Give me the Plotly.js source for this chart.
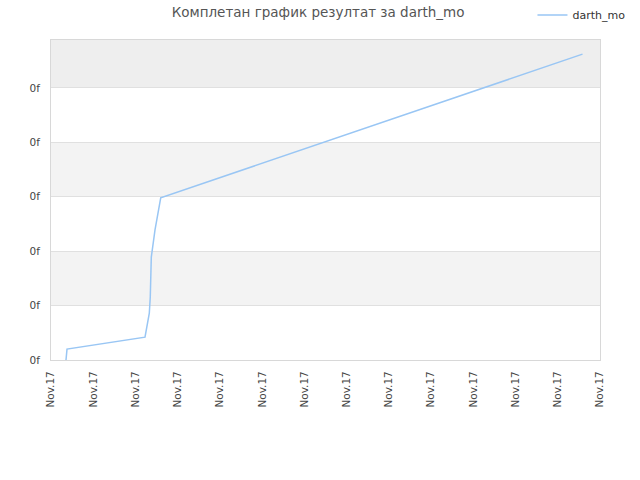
<!DOCTYPE html>
<html>
<head>
<meta charset="utf-8">
<script src="https://cdn.plot.ly/plotly-3.0.1.min.js"></script>
<style>html,body{margin:0;padding:0;background:#fff;}#chart{width:640px;height:480px;}</style>
</head>
<body>
<div id="chart"></div>
<script>
// data
const seriesName = "darth_mo";
const xValues = [0.355, 0.379, 2.226, 2.250, 2.328, 2.351, 2.361, 2.375, 2.463, 2.598, 12.586];
const yValues = [0, 0.20, 0.42, 0.51, 0.86, 1.16, 1.80, 1.89, 2.39, 2.98, 5.62];
const xTickVals = [0,1,2,3,4,5,6,7,8,9,10,11,12,13];
const xTickText = ["Nov.17","Nov.17","Nov.17","Nov.17","Nov.17","Nov.17","Nov.17","Nov.17","Nov.17","Nov.17","Nov.17","Nov.17","Nov.17","Nov.17"];
const yTickVals = [0,1,2,3,4,5];
const yTickText = ["0f","0f","0f","0f","0f","0f"];
const titleText = "Комплетан график резултат за darth_mo";

const yTop = 5.88;
const bands = [
  {y0:1, y1:2, c:"#f3f3f3"},
  {y0:3, y1:4, c:"#f3f3f3"},
  {y0:5, y1:yTop, c:"#eeeeee"}
];
const shapes = bands.map(b => ({type:"rect", xref:"paper", yref:"y", x0:0, x1:1, y0:b.y0, y1:b.y1, fillcolor:b.c, line:{width:0}, layer:"below"}));

const trace = {
  x: xValues, y: yValues, type:"scatter", mode:"lines", name: seriesName,
  line:{color:"#99c6f4", width:1.5}
};

const layout = {
  width:640, height:480,
  margin:{l:51, r:40, t:40, b:120, autoexpand:false},
  paper_bgcolor:"#fff", plot_bgcolor:"rgba(0,0,0,0)",
  font:{family:"DejaVu Sans, sans-serif", size:10, color:"#444"},
  title:{text:titleText, x:0.497, xanchor:"center", y:0.975, yanchor:"middle", font:{size:13.5, color:"#555", family:"DejaVu Sans, sans-serif"}},
  showlegend:true,
  legend:{orientation:"h", x:0.877, xanchor:"left", y:1.078, yanchor:"middle", font:{size:11, color:"#333"}, bgcolor:"rgba(0,0,0,0)"},
  xaxis:{range:[0,13], tickmode:"array", tickvals:xTickVals, ticktext:xTickText, tickangle:-90,
         showgrid:false, zeroline:false, showline:true, linecolor:"#d8d8d8", linewidth:1, mirror:true,
         ticks:"", ticklabelstandoff:6, tickfont:{size:10.5, color:"#444"}},
  yaxis:{range:[0,yTop], tickmode:"array", tickvals:yTickVals, ticktext:yTickText,
         showgrid:true, gridcolor:"#e0e0e0", zeroline:false, showline:true, linecolor:"#d8d8d8", linewidth:1, mirror:true,
         ticks:"", ticklabelstandoff:8, tickfont:{size:10.5, color:"#444"}},
  shapes: shapes
};

Plotly.newPlot("chart", [trace], layout, {displayModeBar:false, staticPlot:true});
</script>
</body>
</html>
